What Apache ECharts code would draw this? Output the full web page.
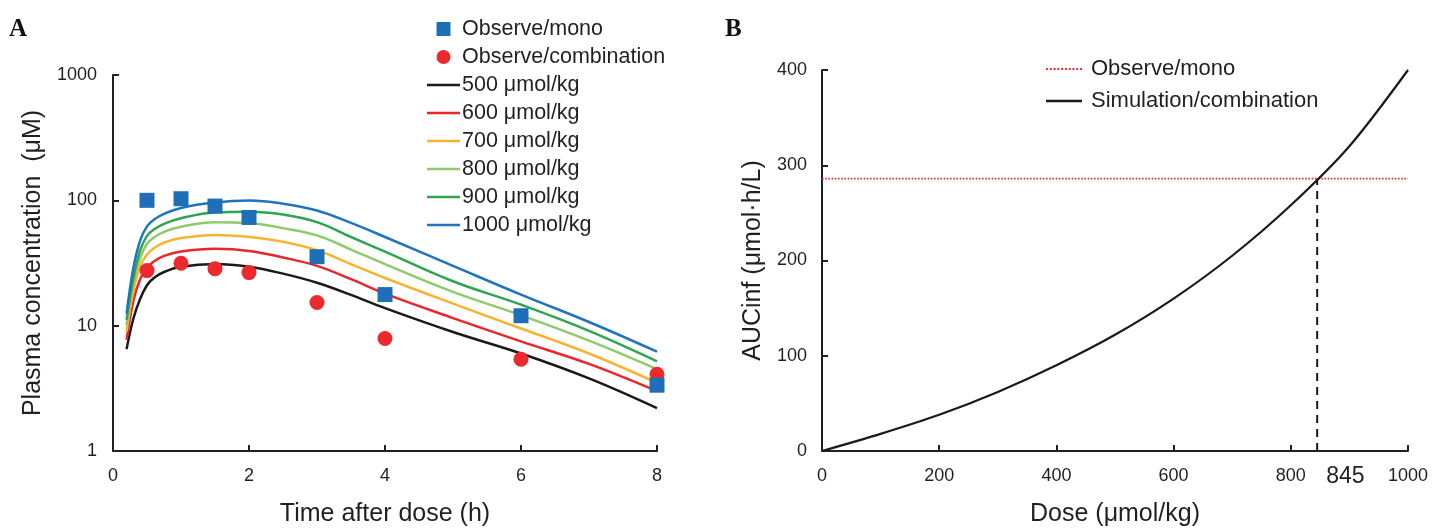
<!DOCTYPE html>
<html>
<head>
<meta charset="utf-8">
<script src="https://cdn.jsdelivr.net/npm/echarts@6/dist/echarts.min.js"></script>
<style>
html,body{margin:0;padding:0;background:#fff;}
#wrap{position:relative;width:1432px;height:532px;}
#a{position:absolute;left:0;top:0;width:716px;height:532px;}
#b{position:absolute;left:716px;top:0;width:716px;height:532px;}
</style>
</head>
<body>
<div id="wrap"><div id="a"></div><div id="b"></div></div>
<script>
// ---------- Panel A data ----------
const simTimes = [0.2, 0.3, 0.4, 0.5, 0.6, 0.75, 1, 1.5, 2, 2.5, 3, 3.5, 4, 5, 6, 7, 8];
const sim500  = [6.5, 11.4, 16.4, 21, 24, 26.8, 29.5, 31, 29.5, 26, 22, 17.6, 13.8, 8.9, 6.0, 3.8, 2.2];
const sim600  = [7.7, 15.8, 23.6, 29, 32.5, 36, 39, 41, 39.5, 35, 30, 23.5, 18, 11.5, 7.5, 4.95, 3.0];
const sim700  = [9, 19, 30, 37, 41.5, 46, 50, 53, 51, 46.8, 40, 31, 24, 15, 9.5, 6.0, 3.5];
const sim800  = [10.1, 22, 34.6, 45, 50.5, 56, 61.5, 67, 66, 60, 52.5, 40.5, 31, 18.6, 12.1, 7.6, 4.5];
const sim900  = [11.1, 24, 40, 52, 58.5, 65, 72, 80, 81, 77, 67, 51, 39, 22.6, 14.7, 9.1, 5.2];
const sim1000 = [12.5, 29, 48, 62, 70, 78, 87, 96, 99.5, 94, 83, 66, 51, 30, 17.7, 10.7, 6.2];
const obsTimes = [0.5, 1, 1.5, 2, 3, 4, 6, 8];
const obsMono = [100, 103, 90, 73, 35.5, 17.7, 12, 3.35];
const obsCombo = [27.5, 31.5, 28.5, 26.5, 15.3, 7.9, 5.4, 4.1];
const doseLabels = ['500 μmol/kg','600 μmol/kg','700 μmol/kg','800 μmol/kg','900 μmol/kg','1000 μmol/kg'];
const yTicksA = [1, 10, 100, 1000];

// ---------- Panel B data ----------
const doses = [0, 100, 200, 300, 400, 500, 600, 700, 800, 900, 1000];
const aucSim = [0, 18, 38, 62, 90, 122, 160, 205, 258, 320, 400];
const observedAUC = 286;
const crossDose = 845;

const FONT = 'Liberation Sans, Arial, sans-serif';
const AX = '#231f20';
const TXT = '#231f20';

const LINE_ICON = 'path://M0,0H33V2.6H0Z';
const SQUARE_ICON = 'path://M0,0H15V15H0Z';
let dots = '';
for (let i = 0; i < 10; i++) { const x = (i * 3.8).toFixed(1); dots += 'M' + x + ',0h1.9v1.9h-1.9Z'; }
const DOT_ICON = 'path://' + dots;

const simColors = ['#1a1a1a', '#e8262b', '#f6b431', '#8fcb6a', '#2fa453', '#1f74bd'];
const simData = [sim500, sim600, sim700, sim800, sim900, sim1000];

const chartA = echarts.init(document.getElementById('a'), null, {renderer: 'canvas'});
const seriesA = [];
simData.forEach((arr, k) => {
  seriesA.push({
    name: doseLabels[k], type: 'line', symbol: 'none', smooth: 0.4,
    data: simTimes.map((t, i) => [t, arr[i]]),
    lineStyle: {color: simColors[k], width: 2.5},
    itemStyle: {color: simColors[k]}, z: 2
  });
});
seriesA.push({
  name: 'Observe/mono', type: 'scatter', symbol: 'rect', symbolSize: 15,
  data: obsTimes.map((t, i) => [t, obsMono[i]]),
  itemStyle: {color: '#1f6fb8', opacity: 1}, z: 5
});
seriesA.push({
  name: 'Observe/combination', type: 'scatter', symbol: 'circle', symbolSize: 15,
  data: obsTimes.map((t, i) => [t, obsCombo[i]]),
  itemStyle: {color: '#ec2a2e', opacity: 1}, z: 4
});

const tickLbl = {fontFamily: FONT, fontSize: 18, color: TXT};
const nameStyle = {fontFamily: FONT, fontSize: 25, color: TXT};

chartA.setOption({
  animation: false,
  title: {text: 'A', left: 9, top: 17, padding: 0, textStyle: {fontFamily: 'Liberation Serif, DejaVu Serif, serif', fontWeight: 'bold', fontSize: 25, color: '#111'}},
  legend: {
    orient: 'vertical', left: 427, top: 18, padding: 0, itemWidth: 33, itemHeight: 14, itemGap: 6,
    data: [{name: 'Observe/mono', icon: SQUARE_ICON}, {name: 'Observe/combination', icon: 'circle'}]
      .concat(doseLabels.map(n => ({name: n, icon: LINE_ICON}))),
    textStyle: {fontFamily: FONT, fontSize: 21.5, color: TXT, lineHeight: 22, padding: [0, 0, 0, -3]},
    selectedMode: false
  },
  grid: {left: 113, top: 75, width: 544, height: 384},
  xAxis: {
    type: 'value', min: 0, max: 8, interval: 2,
    name: 'Time after dose (h)', nameLocation: 'middle', nameGap: 51,
    nameTextStyle: nameStyle,
    axisLine: {lineStyle: {color: AX, width: 2}},
    axisTick: {inside: true, length: 6, lineStyle: {color: AX, width: 2}},
    axisLabel: Object.assign({margin: 16}, tickLbl),
    splitLine: {show: false}
  },
  yAxis: {
    type: 'log', logBase: 10, min: yTicksA[0], max: yTicksA[yTicksA.length - 1],
    name: 'Plasma concentration  (μM)', nameLocation: 'middle', nameGap: 59,
    nameTextStyle: nameStyle,
    axisLine: {show: true, lineStyle: {color: AX, width: 2}},
    axisTick: {inside: true, length: 6, lineStyle: {color: AX, width: 2}},
    axisLabel: Object.assign({margin: 16, formatter: v => String(Math.round(v))}, tickLbl),
    splitLine: {show: false}, minorTick: {show: false}
  },
  series: seriesA
});

// ---------- Panel B ----------
const chartB = echarts.init(document.getElementById('b'), null, {renderer: 'canvas'});
chartB.setOption({
  animation: false,
  title: {text: 'B', left: 9, top: 17, padding: 0, textStyle: {fontFamily: 'Liberation Serif, DejaVu Serif, serif', fontWeight: 'bold', fontSize: 25, color: '#111'}},
  legend: {
    orient: 'vertical', left: 330, top: 58, padding: 0, itemWidth: 36, itemHeight: 14, itemGap: 10,
    data: [{name: 'Observe/mono', icon: DOT_ICON}, {name: 'Simulation/combination', icon: 'path://M0,0H36V2.4H0Z'}],
    textStyle: {fontFamily: FONT, fontSize: 22, color: TXT, lineHeight: 22, padding: [0, 0, 0, 4]},
    selectedMode: false
  },
  grid: {left: 106, top: 70, width: 586, height: 389},
  xAxis: {
    type: 'value', min: 0, max: 1000, interval: 200,
    name: 'Dose (μmol/kg)', nameLocation: 'middle', nameGap: 51,
    nameTextStyle: nameStyle,
    axisLine: {lineStyle: {color: AX, width: 2}},
    axisTick: {inside: true, length: 6, lineStyle: {color: AX, width: 2}},
    axisLabel: Object.assign({margin: 16, formatter: v => String(v)}, tickLbl),
    splitLine: {show: false}
  },
  yAxis: {
    type: 'value', min: 0, max: 400, interval: 100,
    name: 'AUCinf (μmol·h/L)', nameLocation: 'middle', nameGap: 43,
    nameTextStyle: nameStyle,
    axisLine: {show: true, lineStyle: {color: AX, width: 2}},
    axisTick: {show: true, inside: true, length: 6, lineStyle: {color: AX, width: 2}},
    axisLabel: Object.assign({margin: 15}, tickLbl),
    splitLine: {show: false}
  },
  series: [
    {
      name: 'Observe/mono', type: 'line', symbol: 'none',
      data: [[doses[0], observedAUC], [doses[doses.length - 1], observedAUC]],
      lineStyle: {color: '#ee2a2a', width: 1.6, type: 'dotted'},
      itemStyle: {color: '#ee2a2a'}, z: 3
    },
    {
      name: 'Simulation/combination', type: 'line', symbol: 'none', smooth: 0.3,
      data: doses.map((d, i) => [d, aucSim[i]]),
      lineStyle: {color: '#1a1a1a', width: 2.2},
      itemStyle: {color: '#1a1a1a'}, z: 4
    },
    {
      name: 'Crossing dose', type: 'line', symbol: 'none',
      data: [[crossDose, 0], [crossDose, observedAUC]],
      lineStyle: {color: '#1a1a1a', width: 2, type: [8, 6]}, z: 2
    }
  ]
});
const p = chartB.convertToPixel({gridIndex: 0}, [crossDose, 0]);
chartB.setOption({
  graphic: [{
    type: 'text', left: p[0] + 9, top: p[1] + 14,
    style: {text: String(crossDose), fontFamily: FONT, fontSize: 23, fill: TXT}
  }]
});
</script>
</body>
</html>
